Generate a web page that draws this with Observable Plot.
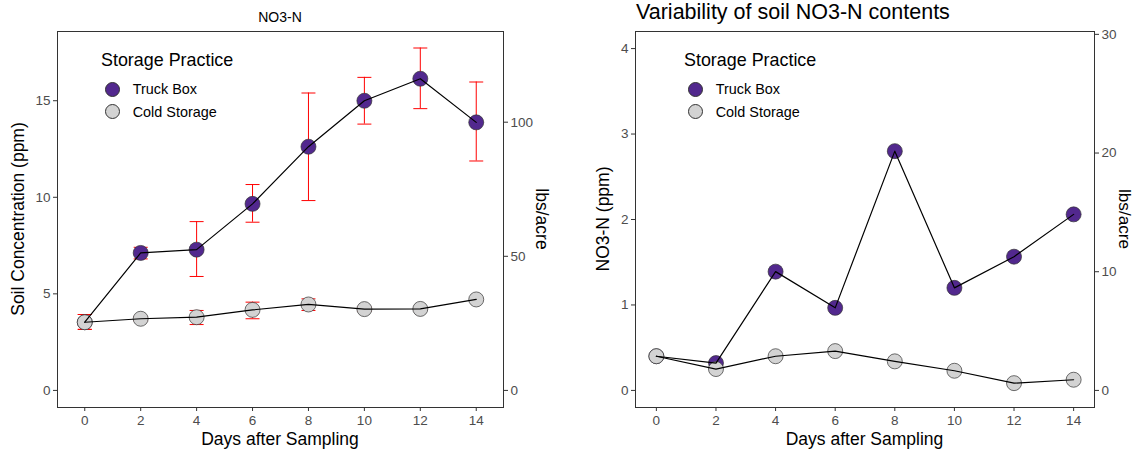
<!DOCTYPE html>
<html><head><meta charset="utf-8">
<script src="https://cdn.jsdelivr.net/npm/d3@7"></script>
<script src="https://cdn.jsdelivr.net/npm/@observablehq/plot@0.6"></script>
<style>
html,body{margin:0;padding:0;background:#fff;}
body{font-family:"Liberation Sans",Arial,sans-serif;}
#wrap{position:relative;width:1134px;height:454px;overflow:hidden;background:#fff;}
.panel{position:absolute;top:0;}
.t{position:absolute;white-space:nowrap;line-height:1;color:#000;font-family:"Liberation Sans",Arial,sans-serif;}
.sw{position:absolute;border-radius:50%;box-sizing:border-box;border:0.7px solid #333;}
</style></head>
<body><div id="wrap"></div>
<script>
// ---- data ----
const days = [0, 2, 4, 6, 8, 10, 12, 14];
const practices = ["Truck Box", "Cold Storage"];
const practiceColors = ["#52288E", "#D3D3D3"];

// Left panel: soil NO3-N concentration (ppm) with error bars
const truckPpm  = [3.53, 7.12, 7.29, 9.66, 12.62, 15.00, 16.14, 13.88];
const truckLow  = [3.16, 6.81, 5.90, 8.71, 9.83, 13.79, 14.59, 11.88];
const truckHigh = [3.93, 7.41, 8.74, 10.66, 15.40, 16.21, 17.73, 15.97];
const coldPpm   = [3.53, 3.71, 3.79, 4.17, 4.45, 4.21, 4.22, 4.71];
const coldLow   = [3.16, 3.60, 3.41, 3.71, 4.14, 4.10, 4.17, 4.68];
const coldHigh  = [3.93, 3.82, 4.14, 4.57, 4.74, 4.32, 4.27, 4.74];

// Right panel: variability of NO3-N (ppm)
const truckVar = [0.40, 0.32, 1.39, 0.966, 2.80, 1.20, 1.565, 2.06];
const coldVar  = [0.40, 0.25, 0.40, 0.46, 0.34, 0.23, 0.085, 0.125];

// ticks
const xTicks = [0, 2, 4, 6, 8, 10, 12, 14];
const yTicksLeft = [0, 5, 10, 15];
const lbsTicksLeft = [0, 50, 100];
const yTicksRight = [0, 1, 2, 3, 4];
const lbsTicksRight = [0, 10, 20, 30];
const ppmToLbs = 7.2;

// ---- build tables ----
const rowsL = practices.flatMap(p => days.map((d, i) => p === "Truck Box"
  ? {day: d, ppm: truckPpm[i], lo: truckLow[i], hi: truckHigh[i], practice: p}
  : {day: d, ppm: coldPpm[i], lo: coldLow[i], hi: coldHigh[i], practice: p}));
const rowsR = practices.flatMap(p => days.map((d, i) =>
  ({day: d, ppm: p === "Truck Box" ? truckVar[i] : coldVar[i], practice: p})));

const font = '"Liberation Sans", Arial, sans-serif';
const axisCommon = {tickSize: 4, stroke: "#333", fill: "#4D4D4D", label: null, fontSize: 13.5};

function panel({rows, xDomain, yDomain, yTicks, lbsTicks, margins, errors}) {
  const marks = [
    Plot.frame({stroke: "#333", strokeWidth: 1}),
    Plot.axisX({...axisCommon, ticks: xTicks, tickFormat: d => String(d), tickPadding: 4}),
    Plot.axisY({...axisCommon, ticks: yTicks, tickFormat: d => String(d), tickPadding: 3}),
    Plot.axisY({...axisCommon, anchor: "right", ticks: lbsTicks.map(v => v / ppmToLbs),
      tickFormat: v => String(Math.round(v * ppmToLbs)), tickPadding: 3})
  ];
  if (errors) {
    marks.push(
      Plot.ruleX(rows, {x: "day", y1: "lo", y2: "hi", stroke: "#FF0000", strokeWidth: 1}),
      Plot.link(rows, {x1: d => d.day - 0.25, x2: d => d.day + 0.25, y1: "lo", y2: "lo", stroke: "#FF0000", strokeWidth: 1}),
      Plot.link(rows, {x1: d => d.day - 0.25, x2: d => d.day + 0.25, y1: "hi", y2: "hi", stroke: "#FF0000", strokeWidth: 1})
    );
  }
  marks.push(
    Plot.dot(rows, {x: "day", y: "ppm", r: 7.5, fill: "practice", stroke: "#333", strokeWidth: 0.7}),
    Plot.line(rows, {x: "day", y: "ppm", z: "practice", stroke: "#000", strokeWidth: 1.2})
  );
  return Plot.plot({
    width: 567, height: 454, ...margins,
    x: {domain: xDomain},
    y: {domain: yDomain},
    color: {domain: practices, range: practiceColors},
    style: {fontFamily: font, fontSize: "13.5px", background: "transparent", overflow: "visible"},
    marks
  });
}

const wrap = document.getElementById("wrap");
function addPanel(svg, left) {
  const d = document.createElement("div");
  d.className = "panel"; d.style.left = left + "px";
  d.appendChild(svg); wrap.appendChild(d);
}

addPanel(panel({rows: rowsL, xDomain: [-0.975, 14.975], yDomain: [-0.885, 18.585],
  yTicks: yTicksLeft, lbsTicks: lbsTicksLeft,
  margins: {marginLeft: 57, marginRight: 64, marginTop: 31, marginBottom: 47}, errors: true}), 0);
addPanel(panel({rows: rowsR, xDomain: [-0.7, 14.7], yDomain: [-0.2, 4.2],
  yTicks: yTicksRight, lbsTicks: lbsTicksRight,
  margins: {marginLeft: 68, marginRight: 40, marginTop: 31, marginBottom: 47}, errors: false}), 567);

// ---- text helpers ----
function txt(s, {x, baseline, size, anchor = "start", rotate = 0, cy}) {
  const d = document.createElement("div");
  d.className = "t"; d.textContent = s; d.style.fontSize = size + "px";
  if (rotate) {
    d.style.left = x + "px"; d.style.top = cy + "px";
    d.style.transform = `translate(-50%,-50%) rotate(${rotate}deg)`;
  } else {
    d.style.left = x + "px"; d.style.top = (baseline - 0.8465 * size) + "px";
    if (anchor === "middle") d.style.transform = "translateX(-50%)";
  }
  wrap.appendChild(d);
}
function swatch(cx, cy, color) {
  const d = document.createElement("div");
  d.className = "sw"; const r = 7.5;
  d.style.left = (cx - r) + "px"; d.style.top = (cy - r) + "px";
  d.style.width = 2 * r + "px"; d.style.height = 2 * r + "px"; d.style.background = color;
  wrap.appendChild(d);
}

// titles
txt("NO3-N", {x: 280, baseline: 21.5, size: 14, anchor: "middle"});
txt("Variability of soil NO3-N contents", {x: 636, baseline: 20.5, size: 21.5, anchor: "start"});
// axis titles
txt("Days after Sampling", {x: 280, baseline: 446, size: 17.5, anchor: "middle"});
txt("Days after Sampling", {x: 864.5, baseline: 446, size: 17.5, anchor: "middle"});
txt("Soil Concentration (ppm)", {x: 18.5, cy: 219, size: 17.5, rotate: -90});
txt("NO3-N (ppm)", {x: 604, cy: 219, size: 17.5, rotate: -90});
txt("lbs/acre", {x: 541, cy: 219, size: 17.5, rotate: 90});
txt("lbs/acre", {x: 1123.5, cy: 219, size: 17.2, rotate: 90});

// legends
function legend(x0) {
  txt("Storage Practice", {x: x0, baseline: 66.7, size: 17.9});
  const ys = [89.3, 111.7];
  practices.forEach((p, i) => {
    swatch(x0 + 11.3, ys[i], practiceColors[i]);
    txt(p, {x: x0 + 31.7, baseline: ys[i] + 5.2, size: 14.4});
  });
}
legend(101);
legend(684);
</script>
</body></html>
